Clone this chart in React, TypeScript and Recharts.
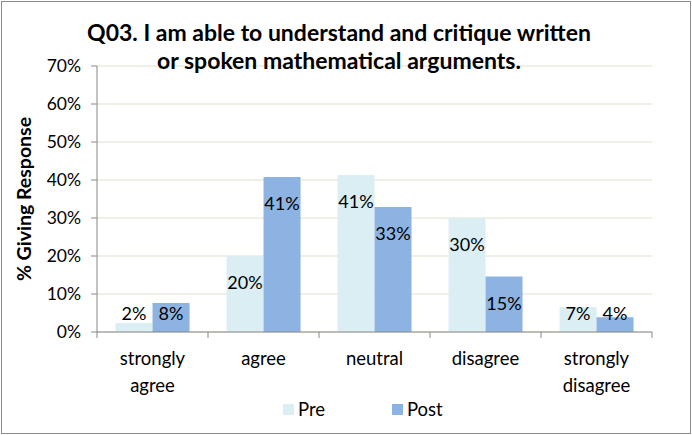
import React from 'react';
import {
  BarChart,
  Bar,
  XAxis,
  YAxis,
  CartesianGrid,
  Legend,
  LabelList,
} from 'recharts';

const categories = ['strongly agree', 'agree', 'neutral', 'disagree', 'strongly disagree'];
const preValues = [2.4, 20, 41.3, 30, 6.6];
const postValues = [7.6, 40.8, 32.9, 14.6, 3.9];
const yTicks = [0, 10, 20, 30, 40, 50, 60, 70];

const PRE_COLOR = '#dbeef4';
const POST_COLOR = '#8db3e2';
const AXIS_COLOR = '#888888';
const FONT = 'Lato, "Open Sans", sans-serif';

const data = categories.map((name, i) => ({
  name,
  pre: preValues[i],
  post: postValues[i],
}));

const BASELINE_Y = 332;

function BarValueLabel(props: any) {
  const { x, y, width, value } = props;
  const cy = Math.min(y + 26, BASELINE_Y - 19);
  return (
    <text
      x={x + width / 2}
      y={cy}
      textAnchor="middle"
      dominantBaseline="central"
      fontSize={18}
      fontFamily={FONT}
      fill="#000"
    >
      {Math.round(value)}%
    </text>
  );
}

function CategoryTick(props: any) {
  const { x, y, payload, index, visibleTicksCount } = props;
  const band = 111;
  const words = String(payload.value).split(' ');
  const isLast = index === visibleTicksCount - 1;
  return (
    <g>
      <line x1={x - band / 2} x2={x - band / 2} y1={BASELINE_Y} y2={BASELINE_Y + 6} stroke={AXIS_COLOR} />
      {isLast && (
        <line x1={x + band / 2} x2={x + band / 2} y1={BASELINE_Y} y2={BASELINE_Y + 6} stroke={AXIS_COLOR} />
      )}
      <text x={x} y={y} textAnchor="middle" fontSize={18.5} fontFamily={FONT} fill="#000">
        {words.map((w, i) => (
          <tspan key={w} x={x} dy={i === 0 ? 25 : 27}>
            {w}
          </tspan>
        ))}
      </text>
    </g>
  );
}

function LegendContent() {
  const items = [
    { label: 'Pre', color: PRE_COLOR, x: 283 },
    { label: 'Post', color: POST_COLOR, x: 392 },
  ];
  return (
    <svg width={692} height={30} style={{ display: 'block' }}>
      {items.map((it) => (
        <g key={it.label}>
          <rect x={it.x} y={10} width={11} height={11} fill={it.color} />
          <text x={it.x + 15} y={15} dominantBaseline="central" fontSize={18.5} fontFamily={FONT} fill="#000">
            {it.label}
          </text>
        </g>
      ))}
    </svg>
  );
}

export default function App() {
  return (
    <div
      style={{
        position: 'absolute',
        left: 0,
        top: 0,
        width: 692,
        height: 435,
        background: '#fff',
        fontFamily: FONT,
      }}
    >
      <div
        style={{
          position: 'absolute',
          left: 1,
          top: 1,
          width: 688,
          height: 431,
          border: '1px solid #8c8c8c',
          pointerEvents: 'none',
          zIndex: 2,
        }}
      />
      <div
        style={{
          position: 'absolute',
          left: 0,
          top: 18,
          width: 678,
          textAlign: 'center',
          fontWeight: 'bold',
          fontSize: 23,
          lineHeight: '28px',
          color: '#000',
          zIndex: 1,
        }}
      >
        Q03. I am able to understand and critique written
        <br />
        or spoken mathematical arguments.
      </div>
      <BarChart
        width={692}
        height={435}
        data={data}
        margin={{ top: 66, right: 40, bottom: 43, left: 0 }}
        barCategoryGap="16.7%"
        barGap={0}
      >
        <CartesianGrid vertical={false} stroke="#ecebdf" strokeWidth={1.5} />
        <XAxis
          dataKey="name"
          height={60}
          stroke={AXIS_COLOR}
          tickLine={false}
          tick={<CategoryTick />}
          interval={0}
        />
        <YAxis
          width={97}
          domain={[0, 70]}
          ticks={yTicks}
          stroke={AXIS_COLOR}
          tickSize={6}
          tickMargin={10}
          tickFormatter={(v: number) => `${v}%`}
          tick={{ fontSize: 17.5, fontFamily: FONT, fill: '#000' }}
          label={{
            value: '% Giving Response',
            angle: -90,
            position: 'insideLeft',
            offset: 24,
            style: { textAnchor: 'middle', fontSize: 19.5, fontWeight: 'bold', fontFamily: FONT, fill: '#000' },
          }}
        />
        <Legend
          verticalAlign="middle"
          content={<LegendContent />}
          wrapperStyle={{ position: 'absolute', left: 0, top: 394, width: 692 }}
        />
        <Bar dataKey="pre" name="Pre" fill={PRE_COLOR} isAnimationActive={false}>
          <LabelList dataKey="pre" content={<BarValueLabel />} />
        </Bar>
        <Bar dataKey="post" name="Post" fill={POST_COLOR} isAnimationActive={false}>
          <LabelList dataKey="post" content={<BarValueLabel />} />
        </Bar>
      </BarChart>
    </div>
  );
}
